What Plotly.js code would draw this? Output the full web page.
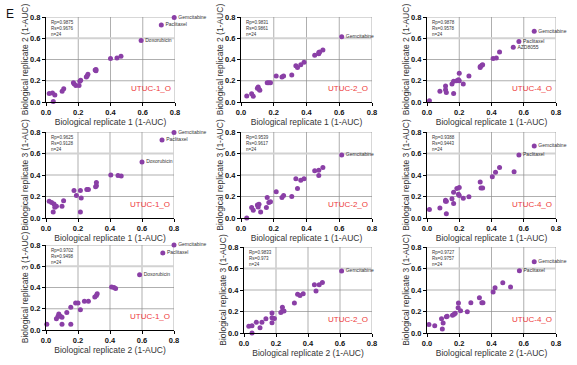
<!DOCTYPE html>
<html><head><meta charset="utf-8">
<script src="https://cdn.plot.ly/plotly-3.0.1.min.js"></script>
<style>html,body{margin:0;padding:0;background:#fff;}#chart{width:577px;height:365px;}</style>
</head><body><div id="chart"></div>
<script>
// ---------- DATA ----------
const cellLines = ["UTUC-1_O", "UTUC-2_O", "UTUC-4_O"];
const xTitles = ["Biological replicate 1 (1-AUC)", "Biological replicate 1 (1-AUC)", "Biological replicate 2 (1-AUC)"];
const yTitles = ["Biological replicate 2 (1-AUC)", "Biological replicate 3 (1-AUC)", "Biological replicate 3 (1-AUC)"];
const tickVals = [0.0, 0.2, 0.4, 0.6, 0.8];
const tickText = ["0.0", "0.2", "0.4", "0.6", "0.8"];

// Row 1: replicate 1 vs replicate 2
const u1_r1r2_x = [0.02,0.04,0.055,0.045,0.10,0.11,0.17,0.175,0.185,0.205,0.21,0.215,0.25,0.255,0.26,0.31,0.305,0.31,0.40,0.44,0.465,0.59,0.715,0.795];
const u1_r1r2_y = [0.08,0.085,0.065,0.005,0.10,0.125,0.18,0.17,0.155,0.155,0.195,0.205,0.235,0.245,0.26,0.295,0.30,0.305,0.41,0.415,0.43,0.58,0.725,0.795];
const u1_r1r2_lab = ["","","","","","","","","","","","","","","","","","","","","","Doxorubicin","Paclitaxel","Gemcitabine"];

const u2_r1r2_x = [0.035,0.065,0.075,0.10,0.105,0.11,0.115,0.16,0.17,0.18,0.215,0.25,0.26,0.31,0.335,0.345,0.365,0.385,0.45,0.475,0.475,0.48,0.50,0.615];
const u2_r1r2_y = [0.056,0.078,0.053,0.13,0.14,0.12,0.11,0.18,0.18,0.18,0.245,0.235,0.245,0.255,0.34,0.325,0.35,0.375,0.44,0.465,0.455,0.47,0.49,0.615];
const u2_r1r2_lab = ["","","","","","","","","","","","","","","","","","","","","","","","Gemcitabine"];

const u4_r1r2_x = [0.015,0.08,0.115,0.115,0.12,0.155,0.165,0.165,0.185,0.195,0.20,0.20,0.225,0.26,0.33,0.33,0.34,0.345,0.41,0.43,0.45,0.535,0.57,0.665];
const u4_r1r2_y = [0.012,0.10,0.15,0.115,0.09,0.17,0.08,0.195,0.20,0.21,0.27,0.20,0.17,0.245,0.335,0.325,0.345,0.35,0.41,0.415,0.47,0.515,0.57,0.665];
const u4_r1r2_lab = ["","","","","","","","","","","","","","","","","","","","","","AZD8055","Paclitaxel","Gemcitabine"];

// Row 2: replicate 1 vs replicate 3
const u1_r1r3_x = [0.02,0.035,0.045,0.05,0.055,0.065,0.10,0.11,0.175,0.19,0.215,0.22,0.215,0.255,0.265,0.315,0.315,0.31,0.405,0.45,0.47,0.60,0.725,0.80];
const u1_r1r3_y = [0.155,0.145,0.055,0.13,0.10,0.11,0.11,0.16,0.255,0.21,0.255,0.185,0.055,0.265,0.265,0.33,0.30,0.29,0.40,0.395,0.39,0.52,0.725,0.795];
const u1_r1r3_lab = ["","","","","","","","","","","","","","","","","","","","","","Doxorubicin","Paclitaxel","Gemcitabine"];

const u2_r1r3_x = [0.035,0.065,0.075,0.10,0.105,0.11,0.12,0.155,0.16,0.17,0.18,0.215,0.25,0.26,0.31,0.335,0.345,0.365,0.385,0.45,0.475,0.475,0.50,0.615];
const u2_r1r3_y = [0.0,0.097,0.072,0.12,0.103,0.128,0.056,0.097,0.19,0.144,0.15,0.244,0.19,0.21,0.20,0.365,0.275,0.35,0.365,0.44,0.445,0.395,0.47,0.585];
const u2_r1r3_lab = ["","","","","","","","","","","","","","","","","","","","","","","","Gemcitabine"];

const u4_r1r3_x = [0.015,0.08,0.115,0.115,0.12,0.12,0.155,0.165,0.165,0.185,0.195,0.20,0.20,0.225,0.26,0.33,0.335,0.345,0.405,0.425,0.45,0.54,0.57,0.665];
const u4_r1r3_y = [0.078,0.094,0.156,0.166,0.155,0.04,0.178,0.24,0.134,0.275,0.22,0.284,0.21,0.184,0.197,0.334,0.28,0.28,0.384,0.425,0.47,0.43,0.585,0.67];
const u4_r1r3_lab = ["","","","","","","","","","","","","","","","","","","","","","","Paclitaxel","Gemcitabine"];

// Row 3: replicate 2 vs replicate 3
const u1_r2r3_x = [0.005,0.065,0.075,0.08,0.09,0.10,0.10,0.13,0.155,0.155,0.185,0.20,0.215,0.24,0.265,0.305,0.315,0.32,0.41,0.425,0.435,0.585,0.73,0.80];
const u1_r2r3_y = [0.055,0.105,0.13,0.15,0.13,0.12,0.055,0.165,0.215,0.055,0.255,0.255,0.19,0.27,0.27,0.31,0.325,0.34,0.405,0.40,0.39,0.52,0.725,0.80];
const u1_r2r3_lab = ["","","","","","","","","","","","","","","","","","","","","","Doxorubicin","Paclitaxel","Gemcitabine"];

const u2_r2r3_x = [0.03,0.05,0.05,0.077,0.10,0.112,0.137,0.175,0.175,0.175,0.19,0.23,0.24,0.24,0.25,0.315,0.335,0.35,0.37,0.44,0.45,0.47,0.49,0.61];
const u2_r2r3_y = [0.062,0.068,0.0,0.10,0.05,0.10,0.133,0.143,0.186,0.096,0.135,0.19,0.24,0.205,0.205,0.28,0.36,0.35,0.365,0.45,0.39,0.45,0.47,0.577];
const u2_r2r3_lab = ["","","","","","","","","","","","","","","","","","","","","","","","Gemcitabine"];

const u4_r2r3_x = [0.012,0.048,0.09,0.10,0.095,0.12,0.125,0.158,0.168,0.175,0.193,0.195,0.208,0.25,0.272,0.325,0.34,0.347,0.41,0.422,0.47,0.518,0.573,0.665];
const u4_r2r3_y = [0.078,0.068,0.133,0.093,0.037,0.152,0.155,0.164,0.174,0.183,0.236,0.279,0.208,0.198,0.282,0.329,0.282,0.282,0.381,0.422,0.468,0.428,0.58,0.662];
const u4_r2r3_lab = ["","","","","","","","","","","","","","","","","","","","","","","Paclitaxel","Gemcitabine"];

// Correlation statistics (Rp, Rs, n) per panel, row-major
const statRp = ["0.9875","0.9831","0.9878","0.9625","0.9539","0.9388","0.9702","0.9833","0.9727"];
const statRs = ["0.9676","0.9861","0.9578","0.9128","0.9617","0.9443","0.9498","0.973","0.9757"];
const statN = [24,24,24,24,24,24,24,24,24];

// ---------- LAYOUT ----------
const W = 577, H = 365;
const panelData = [
  [u1_r1r2_x,u1_r1r2_y,u1_r1r2_lab],[u2_r1r2_x,u2_r1r2_y,u2_r1r2_lab],[u4_r1r2_x,u4_r1r2_y,u4_r1r2_lab],
  [u1_r1r3_x,u1_r1r3_y,u1_r1r3_lab],[u2_r1r3_x,u2_r1r3_y,u2_r1r3_lab],[u4_r1r3_x,u4_r1r3_y,u4_r1r3_lab],
  [u1_r2r3_x,u1_r2r3_y,u1_r2r3_lab],[u2_r2r3_x,u2_r2r3_y,u2_r2r3_lab],[u4_r2r3_x,u4_r2r3_y,u4_r2r3_lab]
];
// pixel boxes [x0,x1,yTop,yBottom]
const boxes = [
  [46,175,17,102],[241,372,17,102],[427,556,17,102],
  [46,174,132,218],[241,372,132,218],[427,556,132,218],
  [46,174,245,330],[244,372,247,333],[427,556,247,333]
];
const purple = "#8a3fa6";
const gridCol = "#8c8c8c";
const traces = [];
const layout = {
  width: W, height: H, margin:{l:0,r:0,t:0,b:0},
  paper_bgcolor:"#fff", plot_bgcolor:"#fff", showlegend:false,
  font:{family:"Liberation Sans, Arial, sans-serif", color:"#222"},
  annotations:[], shapes:[]
};
for (let i=0;i<9;i++){
  const row = Math.floor(i/3), col = i%3;
  const s = i===0 ? "" : String(i+1);
  const [x0,x1,yt,yb] = boxes[i];
  const [xs,ys,labs] = panelData[i];
  traces.push({
    type:"scatter", mode:"markers+text", x:xs, y:ys, text:labs,
    textposition:"middle right", textfont:{size:5, color:"#333"},
    marker:{color:purple, size:5},
    cliponaxis:false, xaxis:"x"+s, yaxis:"y"+s, hoverinfo:"none"
  });
  const axCommon = {
    range:[0,0.8], tickvals:tickVals, ticktext:tickText,
    showgrid:false,
    showline:true, linecolor:"#000", linewidth:1,
    ticks:"outside", ticklen:3, tickcolor:"#000", tickwidth:1,
    tickfont:{size:7.5, color:"#111", weight:"bold"},
    zeroline:false, fixedrange:true
  };
  layout["xaxis"+s] = Object.assign({}, axCommon, {
    domain:[x0/W, x1/W], anchor:"y"+s,
    title:{text:xTitles[row], font:{size:8.5,color:"#333"}, standoff:0}
  });
  layout["yaxis"+s] = Object.assign({}, axCommon, {
    domain:[1-yb/H, 1-yt/H], anchor:"x"+s,
    title:{text:yTitles[row], font:{size:8.5,color:"#333"}, standoff:0}
  });
  // grid lines (incl. top/right frame)
  [0.2,0.4,0.6,0.8].forEach(v=>{
    layout.shapes.push({type:"line", xref:"x"+s, yref:"y"+s, x0:v, x1:v, y0:0, y1:0.8,
      line:{color:gridCol, width:0.7}, layer:"below"});
  });
  [0.2,0.4,0.8].forEach(v=>{
    layout.shapes.push({type:"line", xref:"x"+s, yref:"y"+s, x0:0, x1:0.8, y0:v, y1:v,
      line:{color:gridCol, width:0.7}, layer:"below"});
  });
  layout.shapes.push({type:"line", xref:"x"+s, yref:"y"+s, x0:0, x1:0.8, y0:0.6, y1:0.6,
    line:{color:"#d2d2d2", width:2.2}, layer:"below"});
  layout.annotations.push({
    xref:"x"+s, yref:"y"+s, x:0.02, y:0.79, xanchor:"left", yanchor:"top",
    text:"Rp="+statRp[i]+"<br>Rs="+statRs[i]+"<br>n="+statN[i],
    showarrow:false, align:"left", font:{size:4.5, color:"#333"}
  });
  layout.annotations.push({
    xref:"x"+s, yref:"y"+s, x:0.785, y:0.13, xanchor:"right", yanchor:"middle",
    text:cellLines[col], showarrow:false, font:{size:8, color:"#ee3b3b"}
  });
}
layout.annotations.push({xref:"paper", yref:"paper", x:4/W, y:1-5/H, xanchor:"left", yanchor:"top",
  text:"E", showarrow:false, font:{size:12, color:"#111"}});
Plotly.newPlot("chart", traces, layout, {staticPlot:true});
</script></body></html>
